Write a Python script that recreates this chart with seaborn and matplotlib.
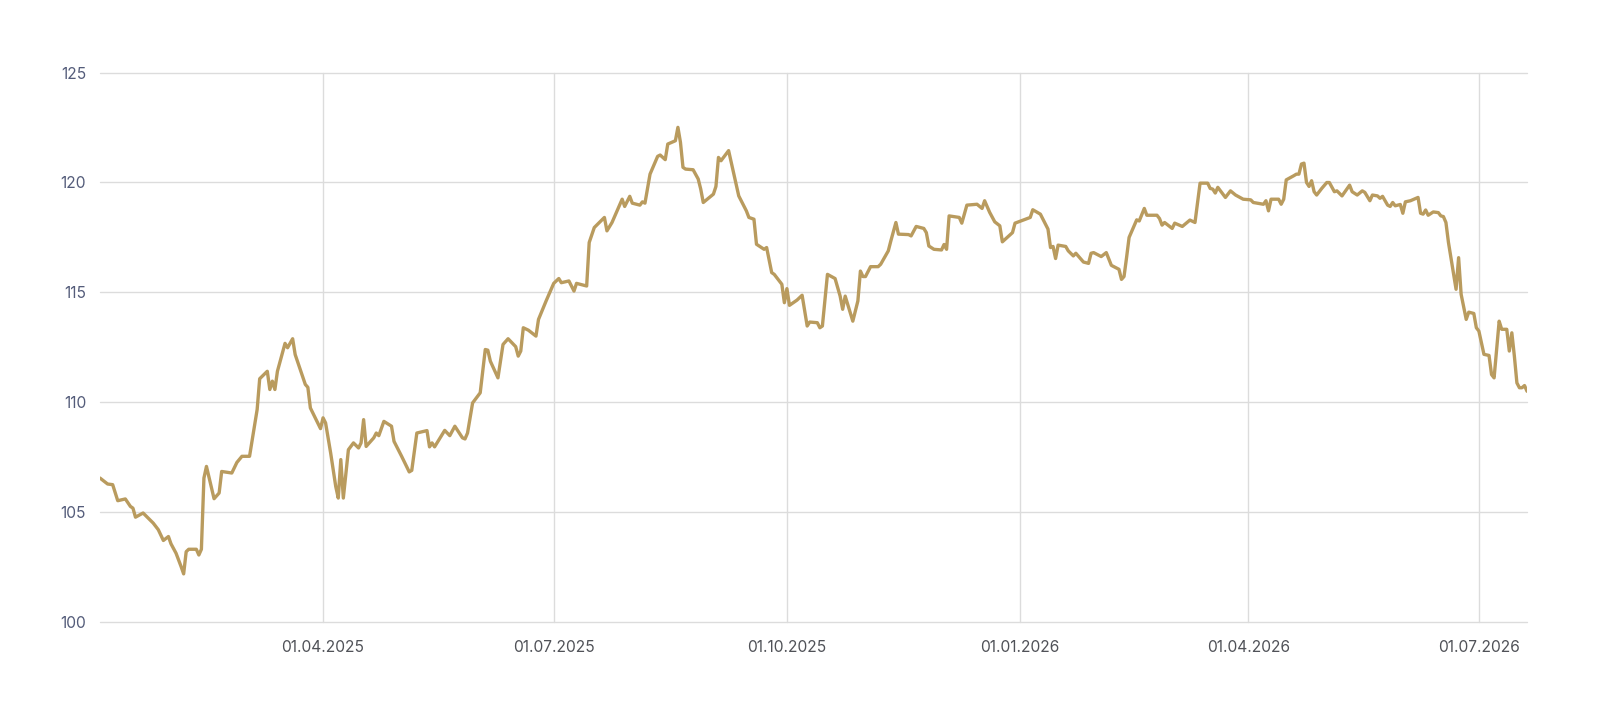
# -*- coding: utf-8 -*-

import pandas as pd
import matplotlib
matplotlib.use('Agg')
import matplotlib.pyplot as plt
import matplotlib.dates as mdates
import seaborn as sns


OUTPUT_FILE = 'out.png'

LINE_COLOR = '#b99b5e'
GRID_COLOR = '#dcdcdc'

# values, 2025
dates_2025 = [
    '2025-01-03', '2025-01-06', '2025-01-08', '2025-01-10', '2025-01-13', '2025-01-15',
    '2025-01-16', '2025-01-17', '2025-01-20', '2025-01-24', '2025-01-26', '2025-01-28',
    '2025-01-30', '2025-01-31', '2025-02-02', '2025-02-04', '2025-02-05', '2025-02-06',
    '2025-02-07', '2025-02-10', '2025-02-11', '2025-02-12', '2025-02-13', '2025-02-14',
    '2025-02-17', '2025-02-19', '2025-02-20', '2025-02-24', '2025-02-26', '2025-02-28',
    '2025-03-03', '2025-03-06', '2025-03-07', '2025-03-10', '2025-03-11', '2025-03-12',
    '2025-03-13', '2025-03-14', '2025-03-17', '2025-03-18', '2025-03-20', '2025-03-21',
    '2025-03-25', '2025-03-26', '2025-03-27', '2025-03-31', '2025-04-01', '2025-04-02',
    '2025-04-04', '2025-04-06', '2025-04-07', '2025-04-08', '2025-04-09', '2025-04-11',
    '2025-04-13', '2025-04-15', '2025-04-16', '2025-04-17', '2025-04-18', '2025-04-21',
    '2025-04-22', '2025-04-23', '2025-04-25', '2025-04-28', '2025-04-29', '2025-05-02',
    '2025-05-05', '2025-05-06', '2025-05-08', '2025-05-12', '2025-05-13', '2025-05-14',
    '2025-05-15', '2025-05-19', '2025-05-21', '2025-05-23', '2025-05-26', '2025-05-27',
    '2025-05-28', '2025-05-30', '2025-06-02', '2025-06-04', '2025-06-05', '2025-06-06',
    '2025-06-09', '2025-06-11', '2025-06-13', '2025-06-16', '2025-06-17', '2025-06-18',
    '2025-06-19', '2025-06-21', '2025-06-24', '2025-06-25', '2025-06-28', '2025-07-01',
    '2025-07-03', '2025-07-04', '2025-07-07', '2025-07-09', '2025-07-10', '2025-07-14',
    '2025-07-15', '2025-07-17', '2025-07-21', '2025-07-22', '2025-07-24', '2025-07-28',
    '2025-07-29', '2025-07-31', '2025-08-01', '2025-08-04', '2025-08-05', '2025-08-06',
    '2025-08-08', '2025-08-11', '2025-08-12', '2025-08-14', '2025-08-15', '2025-08-18',
    '2025-08-19', '2025-08-20', '2025-08-21', '2025-08-22', '2025-08-25', '2025-08-27',
    '2025-08-28', '2025-08-29', '2025-09-02', '2025-09-03', '2025-09-04', '2025-09-05',
    '2025-09-08', '2025-09-12', '2025-09-15', '2025-09-16', '2025-09-18', '2025-09-19',
    '2025-09-22', '2025-09-23', '2025-09-25', '2025-09-26', '2025-09-29', '2025-09-30',
    '2025-10-01', '2025-10-02', '2025-10-05', '2025-10-07', '2025-10-09', '2025-10-10',
    '2025-10-13', '2025-10-14', '2025-10-15', '2025-10-17', '2025-10-20', '2025-10-22',
    '2025-10-23', '2025-10-24', '2025-10-27', '2025-10-29', '2025-10-30', '2025-10-31',
    '2025-11-01', '2025-11-03', '2025-11-06', '2025-11-07', '2025-11-10', '2025-11-11',
    '2025-11-13', '2025-11-14', '2025-11-18', '2025-11-19', '2025-11-21', '2025-11-24',
    '2025-11-25', '2025-11-26', '2025-11-28', '2025-12-01', '2025-12-02', '2025-12-03',
    '2025-12-04', '2025-12-08', '2025-12-09', '2025-12-11', '2025-12-15', '2025-12-17',
    '2025-12-18', '2025-12-20', '2025-12-22', '2025-12-24', '2025-12-25', '2025-12-29',
    '2025-12-30',
]
values_2025 = [
    106.55, 106.28, 106.25, 105.52, 105.60, 105.26,
    105.18, 104.77, 104.96, 104.50, 104.20, 103.71,
    103.89, 103.56, 103.13, 102.52, 102.19, 103.20,
    103.31, 103.31, 103.05, 103.31, 106.55, 107.08,
    105.61, 105.87, 106.85, 106.78, 107.26, 107.54,
    107.54, 109.67, 111.07, 111.41, 110.58, 110.96,
    110.58, 111.41, 112.68, 112.48, 112.89, 112.17,
    110.81, 110.68, 109.74, 108.80, 109.29, 109.06,
    107.69, 106.17, 105.64, 107.39, 105.64, 107.84,
    108.15, 107.92, 108.15, 109.21, 107.99, 108.38,
    108.60, 108.48, 109.13, 108.91, 108.22, 107.54,
    106.83, 106.90, 108.60, 108.71, 107.97, 108.15,
    107.97, 108.72, 108.48, 108.91, 108.38, 108.33,
    108.60, 109.97, 110.43, 112.40, 112.37, 111.87,
    111.11, 112.63, 112.89, 112.53, 112.10, 112.33,
    113.39, 113.28, 113.01, 113.77, 114.61, 115.41,
    115.63, 115.44, 115.52, 115.06, 115.41, 115.29,
    117.27, 117.95, 118.41, 117.80, 118.18, 119.24,
    118.91, 119.37, 119.06, 118.97, 119.12, 119.06,
    120.38, 121.19, 121.25, 121.04, 121.75, 121.90,
    122.51, 121.83, 120.69, 120.61, 120.58, 120.16,
    119.70, 119.09, 119.47, 119.82, 121.14, 120.99,
    121.45, 119.39, 118.71, 118.41, 118.33, 117.19,
    116.96, 117.04, 115.90, 115.82, 115.37, 114.53,
    115.17, 114.41, 114.65, 114.87, 113.47, 113.65,
    113.62, 113.39, 113.47, 115.82, 115.63, 114.83,
    114.23, 114.83, 113.69, 114.61, 115.97, 115.72,
    115.72, 116.17, 116.17, 116.28, 116.89, 117.34,
    118.18, 117.65, 117.63, 117.57, 118.00, 117.91,
    117.72, 117.11, 116.96, 116.93, 117.18, 116.96,
    118.48, 118.41, 118.15, 118.97, 119.01, 118.82,
    119.17, 118.64, 118.21, 118.03, 117.30, 117.72,
    118.15,
]

# values, 2026
dates_2026 = [
    '2026-01-05', '2026-01-06', '2026-01-09', '2026-01-12', '2026-01-13', '2026-01-14',
    '2026-01-15', '2026-01-16', '2026-01-19', '2026-01-20', '2026-01-22', '2026-01-23',
    '2026-01-26', '2026-01-28', '2026-01-29', '2026-01-30', '2026-02-02', '2026-02-04',
    '2026-02-06', '2026-02-09', '2026-02-10', '2026-02-11', '2026-02-12', '2026-02-13',
    '2026-02-16', '2026-02-17', '2026-02-19', '2026-02-20', '2026-02-24', '2026-02-25',
    '2026-02-26', '2026-02-27', '2026-03-02', '2026-03-03', '2026-03-06', '2026-03-09',
    '2026-03-11', '2026-03-13', '2026-03-16', '2026-03-17', '2026-03-18', '2026-03-19',
    '2026-03-20', '2026-03-23', '2026-03-25', '2026-03-27', '2026-03-30', '2026-04-02',
    '2026-04-03', '2026-04-07', '2026-04-08', '2026-04-09', '2026-04-10', '2026-04-13',
    '2026-04-14', '2026-04-15', '2026-04-16', '2026-04-19', '2026-04-20', '2026-04-21',
    '2026-04-22', '2026-04-23', '2026-04-24', '2026-04-25', '2026-04-26', '2026-04-27',
    '2026-04-28', '2026-04-30', '2026-05-02', '2026-05-03', '2026-05-05', '2026-05-06',
    '2026-05-08', '2026-05-11', '2026-05-12', '2026-05-14', '2026-05-16', '2026-05-17',
    '2026-05-19', '2026-05-20', '2026-05-22', '2026-05-23', '2026-05-24', '2026-05-26',
    '2026-05-27', '2026-05-28', '2026-05-29', '2026-05-31', '2026-06-01', '2026-06-02',
    '2026-06-04', '2026-06-07', '2026-06-08', '2026-06-09', '2026-06-10', '2026-06-11',
    '2026-06-13', '2026-06-15', '2026-06-16', '2026-06-17', '2026-06-18', '2026-06-19',
    '2026-06-22', '2026-06-23', '2026-06-24', '2026-06-26', '2026-06-27', '2026-06-29',
    '2026-06-30', '2026-07-01', '2026-07-03', '2026-07-05', '2026-07-06', '2026-07-07',
    '2026-07-09', '2026-07-10', '2026-07-12', '2026-07-13', '2026-07-14', '2026-07-15',
    '2026-07-16', '2026-07-17', '2026-07-18', '2026-07-19', '2026-07-20',
]
values_2026 = [
    118.41, 118.76, 118.56, 117.88, 117.04, 117.09,
    116.54, 117.15, 117.09, 116.89, 116.66, 116.78,
    116.38, 116.32, 116.78, 116.81, 116.63, 116.81,
    116.23, 116.05, 115.59, 115.72, 116.58, 117.50,
    118.30, 118.25, 118.82, 118.51, 118.51, 118.36,
    118.06, 118.18, 117.91, 118.15, 118.00, 118.29,
    118.18, 119.97, 119.97, 119.73, 119.70, 119.52,
    119.78, 119.32, 119.62, 119.43, 119.24, 119.21,
    119.09, 119.01, 119.17, 118.71, 119.24, 119.24,
    119.01, 119.24, 120.12, 120.31, 120.38, 120.38,
    120.84, 120.88, 120.00, 119.82, 120.08, 119.58,
    119.43, 119.73, 120.00, 120.00, 119.58, 119.62,
    119.39, 119.88, 119.58, 119.43, 119.62, 119.55,
    119.17, 119.43, 119.39, 119.28, 119.37, 118.97,
    118.91, 119.09, 118.94, 119.00, 118.60, 119.12,
    119.17, 119.32, 118.60, 118.56, 118.75, 118.51,
    118.66, 118.63, 118.48, 118.45, 118.18, 117.27,
    115.14, 116.58, 114.91, 113.77, 114.10, 114.04,
    113.39, 113.24, 112.18, 112.13, 111.26, 111.11,
    113.69, 113.32, 113.32, 112.33, 113.16, 112.10,
    110.88, 110.66, 110.66, 110.76, 110.50,
]

x_ticks = ['2025-04-01', '2025-07-01', '2025-10-01', '2026-01-01', '2026-04-01', '2026-07-01']
y_ticks = [100, 105, 110, 115, 120, 125]


def main():
    df = pd.DataFrame({
        'Datum': pd.to_datetime(dates_2025 + dates_2026),
        'Wert': values_2025 + values_2026,
    })

    sns.set_theme(style='whitegrid')
    plt.rcParams['font.family'] = ['Inter', 'DejaVu Sans']

    fig = plt.figure(figsize=(16, 7.12), dpi=100)
    ax = fig.add_axes([0.0625, 0.1264, 0.8919, 0.7716])

    sns.lineplot(data=df, x='Datum', y='Wert', estimator=None, sort=False,
                 color=LINE_COLOR, linewidth=2.4, ax=ax)

    ax.set_xlim(df['Datum'].min(), df['Datum'].max())
    ax.set_ylim(100, 125)
    ax.set_xticks(pd.to_datetime(x_ticks))
    ax.xaxis.set_major_formatter(mdates.DateFormatter('%d.%m.%Y'))
    ax.set_yticks(y_ticks)
    ax.set(xlabel='', ylabel='')

    ax.grid(True, color=GRID_COLOR, linewidth=1.0)
    ax.set_axisbelow(True)
    ax.set_facecolor('white')
    for s in ax.spines.values():
        s.set_visible(False)
    # keep the 100 and 125 lines whole at the edges
    for gl in ax.get_ygridlines() + ax.get_xgridlines():
        gl.set_clip_on(False)

    ax.tick_params(axis='x', length=0, pad=13, labelsize=11.2, labelcolor='#505258')
    ax.tick_params(axis='y', length=0, pad=10, labelsize=11.2, labelcolor='#545c7a')

    fig.savefig(OUTPUT_FILE, dpi=100, facecolor='white')


if __name__ == '__main__':
    main()
